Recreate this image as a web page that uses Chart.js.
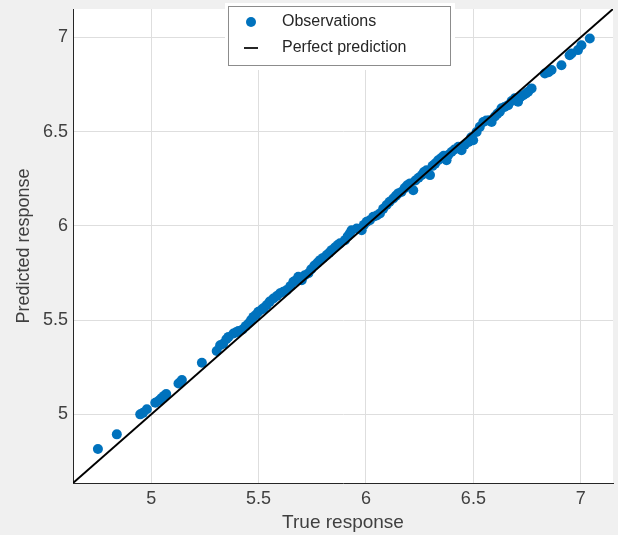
<!DOCTYPE html>
<html>
<head>
<meta charset="utf-8">
<script src="https://cdn.jsdelivr.net/npm/chart.js@4.4.0/dist/chart.umd.min.js"></script>
<style>
  html, body { margin: 0; padding: 0; background: #f0f0f0; }
  #wrap { width: 618px; height: 535px; position: relative; }
</style>
</head>
<body>
<div id="wrap"><canvas id="predChart" width="618" height="535"></canvas></div>
<script>
'use strict';
// true response values (x) and predicted values (y)
var trueResponse = [4.752, 4.840, 4.949, 4.962, 4.980, 5.019, 5.035, 5.047, 5.060, 5.070,
  5.127, 5.135, 5.143, 5.236, 5.305, 5.321, 5.335, 5.350, 5.360, 5.383,
  5.395, 5.406, 5.425, 5.440, 5.453, 5.465, 5.476, 5.488, 5.499, 5.515,
  5.525, 5.538, 5.552, 5.569, 5.585, 5.600, 5.615, 5.631, 5.648, 5.662,
  5.675, 5.685, 5.701, 5.692, 5.715, 5.732, 5.745, 5.760, 5.775, 5.786,
  5.800, 5.817, 5.830, 5.840, 5.855, 5.868, 5.879, 5.902, 5.915, 5.925,
  5.933, 5.957, 5.980, 5.990, 6.003, 6.018, 6.034, 6.050, 6.065, 6.080,
  6.096, 6.110, 6.127, 6.140, 6.150, 6.165, 6.180, 6.192, 6.205, 6.220,
  6.230, 6.245, 6.260, 6.270, 6.282, 6.298, 6.310, 6.322, 6.336, 6.350,
  6.362, 6.375, 6.383, 6.398, 6.412, 6.430, 6.445, 6.460, 6.478, 6.490,
  6.499, 6.515, 6.530, 6.546, 6.560, 6.575, 6.585, 6.600, 6.612, 6.623,
  6.631, 6.645, 6.662, 6.678, 6.693, 6.708, 6.720, 6.732, 6.745, 6.755,
  6.771, 6.833, 6.850, 6.864, 6.910, 6.948, 6.957, 6.987, 7.003, 7.042];
var predictedResponse = [4.816, 4.894, 5.000, 5.008, 5.027, 5.062, 5.072, 5.085, 5.098, 5.108,
  5.164, 5.170, 5.182, 5.274, 5.336, 5.367, 5.375, 5.398, 5.411, 5.429,
  5.435, 5.442, 5.450, 5.468, 5.482, 5.500, 5.517, 5.528, 5.544, 5.556,
  5.565, 5.580, 5.598, 5.615, 5.628, 5.642, 5.650, 5.659, 5.680, 5.703,
  5.712, 5.730, 5.712, 5.721, 5.738, 5.748, 5.770, 5.790, 5.805, 5.818,
  5.830, 5.845, 5.858, 5.871, 5.885, 5.898, 5.907, 5.924, 5.945, 5.960,
  5.977, 5.986, 5.977, 6.005, 6.021, 6.030, 6.048, 6.055, 6.066, 6.090,
  6.110, 6.128, 6.145, 6.160, 6.172, 6.180, 6.200, 6.215, 6.225, 6.189,
  6.240, 6.255, 6.270, 6.285, 6.295, 6.269, 6.318, 6.330, 6.348, 6.360,
  6.372, 6.348, 6.375, 6.392, 6.405, 6.419, 6.401, 6.430, 6.445, 6.470,
  6.454, 6.498, 6.525, 6.551, 6.558, 6.560, 6.551, 6.580, 6.595, 6.605,
  6.623, 6.630, 6.640, 6.662, 6.676, 6.658, 6.685, 6.693, 6.702, 6.711,
  6.729, 6.808, 6.815, 6.826, 6.852, 6.905, 6.914, 6.932, 6.958, 6.994];
var axisLimits = [4.636, 7.15];
var tickValues = [5, 5.5, 6, 6.5, 7];
var tickLabels = ['5', '5.5', '6', '6.5', '7'];
var legendLabels = ['Observations', 'Perfect prediction'];

var blue = '#0072BD';
var dark = '#262626';
var textGray = '#404040';
var fontFamily = '"Liberation Sans", Arial, sans-serif';

var points = [];
for (var i = 0; i < trueResponse.length; i++) {
  points.push({x: trueResponse[i], y: predictedResponse[i]});
}

function setTicks(scale) {
  scale.ticks = tickValues.map(function (v) { return {value: v}; });
}
function tickText(value) {
  var idx = tickValues.indexOf(value);
  return idx >= 0 ? tickLabels[idx] : '';
}
function noPadding(scale) {
  scale.paddingTop = 0;
  scale.paddingBottom = 0;
  scale.paddingLeft = 0;
  scale.paddingRight = 0;
}

// gray figure background + white axes area
var backgroundPlugin = {
  id: 'bg',
  beforeDraw: function (chart) {
    var ctx = chart.ctx;
    var a = chart.chartArea;
    ctx.save();
    ctx.fillStyle = '#f0f0f0';
    ctx.fillRect(0, 0, chart.width, chart.height);
    ctx.fillStyle = '#ffffff';
    ctx.fillRect(a.left, a.top, a.right - a.left, a.bottom - a.top);
    ctx.restore();
  }
};

// MATLAB-like legend box inside the axes
var legendPlugin = {
  id: 'boxLegend',
  afterDraw: function (chart) {
    var ctx = chart.ctx;
    ctx.save();
    ctx.fillStyle = '#ffffff';
    ctx.fillRect(225, 3, 230, 67);
    ctx.strokeStyle = '#8c8c8c';
    ctx.lineWidth = 1;
    ctx.strokeRect(228.5, 6.5, 222, 59);
    ctx.fillStyle = blue;
    ctx.beginPath();
    ctx.arc(251, 22, 5, 0, Math.PI * 2);
    ctx.fill();
    ctx.strokeStyle = dark;
    ctx.lineWidth = 2;
    ctx.beginPath();
    ctx.moveTo(244, 48);
    ctx.lineTo(258, 48);
    ctx.stroke();
    ctx.fillStyle = '#262626';
    ctx.font = '16px ' + fontFamily;
    ctx.textBaseline = 'middle';
    ctx.textAlign = 'left';
    ctx.fillText(legendLabels[0], 282, 22);
    ctx.fillText(legendLabels[1], 282, 48);
    ctx.restore();
  }
};

var ctx = document.getElementById('predChart').getContext('2d');
var chart = new Chart(ctx, {
  type: 'scatter',
  data: {
    datasets: [{
      label: legendLabels[1],
      type: 'line',
      data: [{x: axisLimits[0], y: axisLimits[0]}, {x: axisLimits[1], y: axisLimits[1]}],
      borderColor: '#000000',
      borderWidth: 2,
      pointRadius: 0,
      fill: false,
      order: 0
    }, {
      label: legendLabels[0],
      data: points,
      backgroundColor: blue,
      borderWidth: 0,
      pointRadius: 5,
      pointHoverRadius: 5,
      order: 1
    }]
  },
  options: {
    responsive: false,
    animation: false,
    layout: {padding: {top: 9, right: 5, left: 0, bottom: 0}},
    plugins: {legend: {display: false}, tooltip: {enabled: false}},
    scales: {
      x: {
        type: 'linear',
        min: axisLimits[0],
        max: axisLimits[1],
        afterBuildTicks: setTicks,
        afterFit: function (scale) { scale.height = 52; noPadding(scale); },
        grid: {color: '#dedede', drawTicks: false},
        border: {color: dark, width: 1},
        ticks: {
          padding: 5,
          color: textGray,
          font: {family: fontFamily, size: 18},
          maxRotation: 0,
          callback: tickText
        },
        title: {
          display: true,
          text: 'True response',
          color: textGray,
          font: {family: fontFamily, size: 19},
          padding: {top: 0, bottom: 1}
        }
      },
      y: {
        type: 'linear',
        min: axisLimits[0],
        max: axisLimits[1],
        afterBuildTicks: setTicks,
        afterFit: function (scale) { scale.width = 73; noPadding(scale); },
        grid: {color: '#dedede', drawTicks: false},
        border: {color: dark, width: 1},
        ticks: {
          padding: 5,
          color: textGray,
          font: {family: fontFamily, size: 18},
          callback: tickText
        },
        title: {
          display: true,
          text: 'Predicted response',
          color: textGray,
          font: {family: fontFamily, size: 18},
          padding: {top: 13, bottom: 0}
        }
      }
    }
  },
  plugins: [backgroundPlugin, legendPlugin]
});
</script>
</body>
</html>
